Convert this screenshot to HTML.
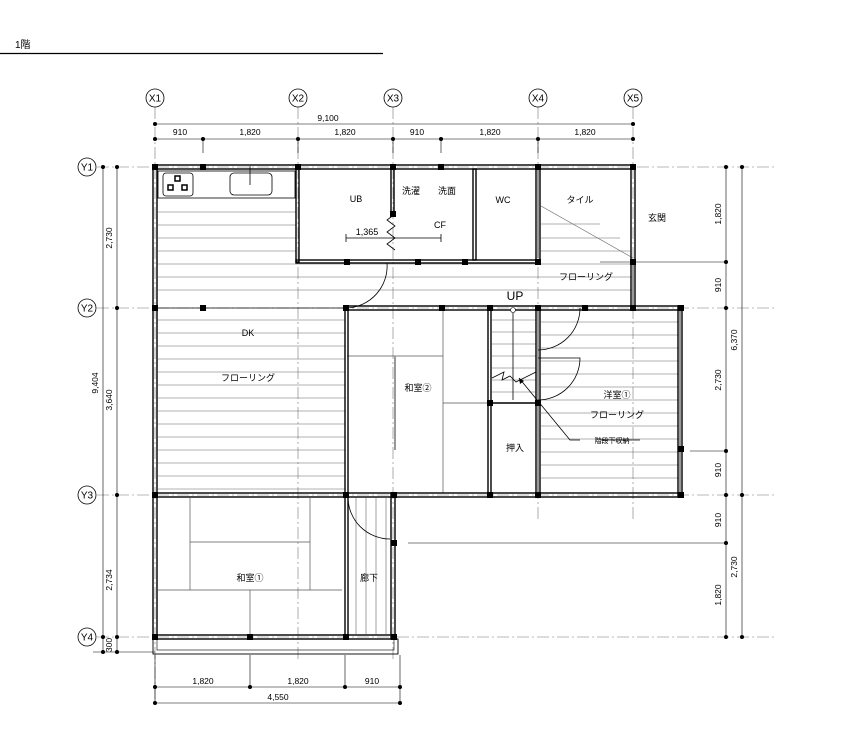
<!DOCTYPE html>
<html><head><meta charset="utf-8"><style>
html,body{margin:0;padding:0;background:#fff;}
svg{display:block;font-family:"Liberation Sans","Noto Sans CJK JP",sans-serif;}
</style></head><body>
<svg width="861" height="755" viewBox="0 0 861 755" xmlns="http://www.w3.org/2000/svg">
<text x="15" y="48" font-size="10">1階</text>
<line x1="0" y1="53.5" x2="383" y2="53.5" stroke="#000" stroke-width="1.2"/>

<g stroke="#777" stroke-width="0.6" stroke-dasharray="12,3,2,3" fill="none">
<line x1="155" y1="107" x2="155" y2="700"/>
<line x1="298" y1="107" x2="298" y2="660"/>
<line x1="393" y1="107" x2="393" y2="660"/>
<line x1="538" y1="107" x2="538" y2="520"/>
<line x1="633" y1="107" x2="633" y2="520"/>
<line x1="97" y1="167" x2="775" y2="167"/>
<line x1="97" y1="308" x2="775" y2="308"/>
<line x1="97" y1="495" x2="775" y2="495"/>
<line x1="97" y1="637" x2="775" y2="637"/>
</g>

<g font-size="10" text-anchor="middle" fill="#000">
<g fill="#fff" stroke="#000" stroke-width="0.8">
<circle cx="155" cy="98" r="9"/><circle cx="298" cy="98" r="9"/><circle cx="393" cy="98" r="9"/><circle cx="538" cy="98" r="9"/><circle cx="633" cy="98" r="9"/>
<circle cx="87" cy="167" r="9"/><circle cx="87" cy="308" r="9"/><circle cx="87" cy="495" r="9"/><circle cx="87" cy="637" r="9"/>
</g>
<text x="155" y="101.5">X1</text><text x="298" y="101.5">X2</text><text x="393" y="101.5">X3</text><text x="538" y="101.5">X4</text><text x="633" y="101.5">X5</text>
<text x="87" y="170.5">Y1</text><text x="87" y="311.5">Y2</text><text x="87" y="498.5">Y3</text><text x="87" y="640.5">Y4</text>
</g>

<g stroke="#000" stroke-width="0.6" fill="none">
<line x1="155" y1="124" x2="633" y2="124"/>
<line x1="155" y1="139" x2="633" y2="139"/>
<line x1="203" y1="139" x2="203" y2="153"/><line x1="298" y1="139" x2="298" y2="153"/><line x1="393" y1="139" x2="393" y2="153"/><line x1="441" y1="139" x2="441" y2="153"/><line x1="538" y1="139" x2="538" y2="153"/>
<line x1="103" y1="167" x2="103" y2="652"/>
<line x1="117" y1="167" x2="117" y2="652"/>
<line x1="726" y1="167" x2="726" y2="637"/>
<line x1="742" y1="167" x2="742" y2="637"/>
<line x1="155" y1="687" x2="400" y2="687"/>
<line x1="155" y1="703" x2="400" y2="703"/>
<line x1="155" y1="655" x2="155" y2="703"/><line x1="250" y1="655" x2="250" y2="687"/><line x1="345" y1="655" x2="345" y2="687"/><line x1="400" y1="655" x2="400" y2="703"/>
<line x1="93" y1="652" x2="155" y2="652"/>
<line x1="600" y1="262" x2="726" y2="262"/>
<line x1="690" y1="451" x2="726" y2="451"/>
<line x1="408" y1="543" x2="726" y2="543"/>
</g>
<g fill="#000">
<circle cx="155" cy="124" r="2"/><circle cx="633" cy="124" r="2"/>
<circle cx="155" cy="139" r="2"/><circle cx="203" cy="139" r="2"/><circle cx="298" cy="139" r="2"/><circle cx="393" cy="139" r="2"/><circle cx="441" cy="139" r="2"/><circle cx="538" cy="139" r="2"/><circle cx="633" cy="139" r="2"/>
<circle cx="103" cy="167" r="2"/><circle cx="117" cy="167" r="2"/><circle cx="117" cy="308" r="2"/><circle cx="117" cy="495" r="2"/><circle cx="117" cy="637" r="2"/><circle cx="103" cy="652" r="2"/><circle cx="117" cy="652" r="2"/><circle cx="103" cy="637" r="2"/>
<circle cx="726" cy="167" r="2"/><circle cx="726" cy="262" r="2"/><circle cx="726" cy="308" r="2"/><circle cx="726" cy="451" r="2"/><circle cx="726" cy="495" r="2"/><circle cx="726" cy="543" r="2"/><circle cx="726" cy="637" r="2"/>
<circle cx="742" cy="167" r="2"/><circle cx="742" cy="495" r="2"/><circle cx="742" cy="637" r="2"/>
<circle cx="155" cy="687" r="2"/><circle cx="250" cy="687" r="2"/><circle cx="345" cy="687" r="2"/><circle cx="400" cy="687" r="2"/><circle cx="155" cy="703" r="2"/><circle cx="400" cy="703" r="2"/>
</g>
<g font-size="8.5" text-anchor="middle" fill="#000">
<text x="328" y="121">9,100</text>
<text x="180" y="135">910</text><text x="250" y="135">1,820</text><text x="345" y="135">1,820</text><text x="417" y="135">910</text><text x="490" y="135">1,820</text><text x="585" y="135">1,820</text>
<text x="203" y="684">1,820</text><text x="298" y="684">1,820</text><text x="372" y="684">910</text><text x="278" y="700">4,550</text>
<text transform="translate(98,383) rotate(-90)">9,404</text>
<text transform="translate(112,238) rotate(-90)">2,730</text>
<text transform="translate(112,400) rotate(-90)">3,640</text>
<text transform="translate(112,580) rotate(-90)">2,734</text>
<text transform="translate(112,645) rotate(-90)">300</text>
<text transform="translate(721,214) rotate(-90)">1,820</text>
<text transform="translate(721,285) rotate(-90)">910</text>
<text transform="translate(737,340) rotate(-90)">6,370</text>
<text transform="translate(721,380) rotate(-90)">2,730</text>
<text transform="translate(721,470) rotate(-90)">910</text>
<text transform="translate(721,520) rotate(-90)">910</text>
<text transform="translate(721,595) rotate(-90)">1,820</text>
<text transform="translate(737,567) rotate(-90)">2,730</text>
</g>

<g stroke="#666" stroke-width="0.6">
<line x1="158" y1="212" x2="296" y2="212"/><line x1="158" y1="225" x2="296" y2="225"/><line x1="158" y1="238" x2="296" y2="238"/><line x1="158" y1="251" x2="296" y2="251"/>
<line x1="158" y1="264" x2="633" y2="264"/><line x1="158" y1="277" x2="633" y2="277"/><line x1="158" y1="290" x2="633" y2="290"/>
<line x1="158" y1="320" x2="345" y2="320"/><line x1="158" y1="333" x2="345" y2="333"/><line x1="158" y1="346" x2="345" y2="346"/><line x1="158" y1="359" x2="345" y2="359"/><line x1="158" y1="372" x2="345" y2="372"/><line x1="158" y1="385" x2="345" y2="385"/><line x1="158" y1="398" x2="345" y2="398"/><line x1="158" y1="411" x2="345" y2="411"/><line x1="158" y1="424" x2="345" y2="424"/><line x1="158" y1="437" x2="345" y2="437"/><line x1="158" y1="450" x2="345" y2="450"/><line x1="158" y1="463" x2="345" y2="463"/><line x1="158" y1="476" x2="345" y2="476"/><line x1="158" y1="489" x2="345" y2="489"/>
<line x1="541" y1="224" x2="600" y2="224"/><line x1="541" y1="238" x2="620" y2="238"/><line x1="541" y1="251" x2="630" y2="251"/>
<line x1="541" y1="322" x2="679" y2="322"/><line x1="541" y1="335" x2="679" y2="335"/><line x1="541" y1="348" x2="679" y2="348"/><line x1="541" y1="361" x2="679" y2="361"/><line x1="541" y1="374" x2="679" y2="374"/><line x1="541" y1="387" x2="679" y2="387"/><line x1="541" y1="400" x2="679" y2="400"/><line x1="541" y1="413" x2="679" y2="413"/><line x1="541" y1="426" x2="679" y2="426"/><line x1="541" y1="439" x2="679" y2="439"/><line x1="541" y1="452" x2="679" y2="452"/><line x1="541" y1="465" x2="679" y2="465"/><line x1="541" y1="478" x2="679" y2="478"/>
<line x1="492" y1="320" x2="536" y2="320"/><line x1="492" y1="332" x2="536" y2="332"/><line x1="492" y1="344" x2="536" y2="344"/><line x1="492" y1="356" x2="536" y2="356"/><line x1="492" y1="368" x2="536" y2="368"/><line x1="492" y1="380" x2="536" y2="380"/><line x1="492" y1="392" x2="536" y2="392"/>
<line x1="356" y1="498" x2="356" y2="634"/><line x1="366" y1="498" x2="366" y2="634"/><line x1="376" y1="498" x2="376" y2="634"/><line x1="386" y1="498" x2="386" y2="634"/>
<line x1="541" y1="206" x2="633" y2="258"/>
</g>

<g stroke="#555" stroke-width="0.7" fill="none">
<line x1="190" y1="498" x2="190" y2="590"/><line x1="310" y1="498" x2="310" y2="590"/>
<line x1="190" y1="542" x2="310" y2="542"/><line x1="158" y1="590" x2="342" y2="590"/><line x1="250" y1="590" x2="250" y2="634"/>
<line x1="347" y1="356" x2="443" y2="356"/><line x1="443" y1="310" x2="443" y2="493"/><line x1="443" y1="403" x2="490" y2="403"/>
</g>
<line x1="395" y1="356" x2="395" y2="450" stroke="#999" stroke-width="2"/>

<g fill="none" stroke="#000">
<g stroke-width="1.4">
<rect x="153" y="165" width="482" height="4"/>
<rect x="153" y="165" width="4" height="474"/>
<rect x="631" y="165" width="4" height="97"/>
<rect x="631" y="262" width="4" height="46"/>
<rect x="345" y="306" width="337" height="4"/>
<rect x="678" y="306" width="4" height="191"/>
<rect x="153" y="493" width="529" height="4"/>
<rect x="345" y="306" width="3" height="331"/>
<rect x="391" y="493" width="4" height="146"/>
<rect x="153" y="635" width="242" height="4"/>
<rect x="488" y="306" width="3" height="191"/>
<rect x="536" y="165" width="4" height="97"/>
<rect x="536" y="306" width="4" height="191"/>
<rect x="296" y="165" width="3" height="97"/>
<rect x="296" y="260" width="242" height="3"/>
<rect x="473" y="169" width="3" height="91"/>
<rect x="391" y="169" width="3" height="45"/>
</g>
<rect x="153" y="639" width="245" height="15" stroke-width="0.9"/>
<rect x="157" y="639" width="237" height="11" stroke-width="0.6"/>
<rect x="158" y="171" width="137" height="27" stroke-width="0.8"/>
<rect x="163" y="173" width="30" height="23" rx="3" stroke-width="0.8"/>
<rect x="230" y="173" width="42" height="22" rx="4" stroke-width="0.8"/>
<line x1="250" y1="166" x2="250" y2="185" stroke-width="0.8"/>
<line x1="490" y1="403" x2="538" y2="403" stroke-width="1.5"/>
<line x1="155" y1="308" x2="345" y2="308" stroke-width="0.8"/>
</g>
<g fill="#999"><rect x="537" y="170" width="2" height="88"/><rect x="537" y="310" width="2" height="183"/><rect x="632" y="263" width="2" height="44"/><rect x="679" y="310" width="2" height="183"/></g>

<g fill="none" stroke="#000" stroke-width="1.5">
<rect x="175" y="176" width="5" height="5"/><rect x="168" y="185" width="5" height="5"/><rect x="182" y="185" width="5" height="5"/>
</g>

<g fill="#000">
<rect x="152" y="164" width="6" height="6"/><rect x="200" y="164" width="6" height="6"/><rect x="295" y="164" width="6" height="6"/><rect x="390" y="164" width="6" height="6"/><rect x="438" y="164" width="6" height="6"/><rect x="535" y="164" width="6" height="6"/><rect x="630" y="164" width="6" height="6"/>
<rect x="390" y="211" width="6" height="6"/><rect x="344" y="259" width="6" height="6"/><rect x="415" y="259" width="6" height="6"/><rect x="462" y="259" width="6" height="6"/><rect x="535" y="259" width="6" height="6"/><rect x="630" y="259" width="6" height="6"/>
<rect x="152" y="305" width="6" height="6"/><rect x="200" y="305" width="6" height="6"/><rect x="343" y="305" width="6" height="6"/><rect x="439" y="305" width="6" height="6"/><rect x="487" y="305" width="6" height="6"/><rect x="535" y="305" width="6" height="6"/><rect x="582" y="305" width="6" height="6"/><rect x="630" y="305" width="6" height="6"/><rect x="678" y="305" width="6" height="6"/>
<rect x="487" y="400" width="6" height="6"/><rect x="535" y="400" width="6" height="6"/><rect x="678" y="446" width="6" height="6"/>
<rect x="152" y="492" width="6" height="6"/><rect x="343" y="492" width="6" height="6"/><rect x="391" y="492" width="6" height="6"/><rect x="487" y="492" width="6" height="6"/><rect x="535" y="492" width="6" height="6"/><rect x="678" y="492" width="6" height="6"/>
<rect x="391" y="540" width="6" height="6"/>
<rect x="152" y="634" width="6" height="6"/><rect x="247" y="634" width="6" height="6"/><rect x="343" y="634" width="6" height="6"/><rect x="391" y="634" width="6" height="6"/>
</g>

<g fill="none" stroke="#000" stroke-width="0.8">
<path d="M387 263 A42 42 0 0 1 347 308"/>
<path d="M538 350 A42 42 0 0 0 580 308"/>
<path d="M538 400 A42 42 0 0 0 580 358 L538 358"/>
<path d="M348 497 A42 42 0 0 0 390 539"/>
<path d="M395 214 l-8 6 l8 6 l-8 6 l8 6 l-8 6 l8 6"/>
<line x1="346" y1="238" x2="441" y2="238"/><line x1="346" y1="234" x2="346" y2="242"/><line x1="441" y1="234" x2="441" y2="242"/>
<path d="M492 378 l12 -6 l-2 8 l8 -4 l6 6 l20 -10"/>
<line x1="513" y1="313" x2="513" y2="400"/>
<path d="M519 378 L570 440 L580 440"/>
<line x1="600" y1="440" x2="640" y2="440"/>
</g>
<circle cx="513" cy="310" r="2.5" fill="#fff" stroke="#000" stroke-width="0.6"/>
<path d="M519 378 l1 6 l4 -3 z" fill="#000"/>

<g font-size="9" fill="#000" text-anchor="middle">
<text x="356" y="202">UB</text>
<text x="411" y="194">洗濯</text><text x="447" y="194">洗面</text>
<text x="440" y="228">CF</text>
<text x="367" y="235">1,365</text>
<text x="503" y="203">WC</text>
<text x="580" y="203">タイル</text>
<text x="657" y="221">玄関</text>
<text x="586" y="280">フローリング</text>
<text x="515" y="300" font-size="12">UP</text>
<text x="248" y="336">DK</text>
<text x="248" y="381">フローリング</text>
<text x="418" y="391">和室②</text>
<text x="515" y="451">押入</text>
<text x="617" y="398">洋室①</text>
<text x="617" y="418">フローリング</text>
<text x="612" y="443" font-size="7">階段下収納</text>
<text x="250" y="581">和室①</text>
<text x="369" y="581">廊下</text>
</g>
</svg>
</body></html>
